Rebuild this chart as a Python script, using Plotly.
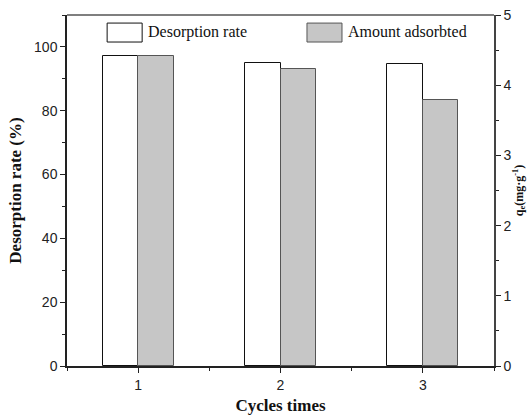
import plotly.graph_objects as go

cycles = [1, 2, 3]
desorption_rate = [97.2, 95.0, 94.8]
amount_adsorbed = [4.42, 4.23, 3.79]
left_ticks = [0, 20, 40, 60, 80, 100]
right_ticks = [0, 1, 2, 3, 4, 5]

fig = go.Figure()
fig.add_trace(go.Bar(x=cycles, y=desorption_rate, width=0.25, offset=-0.25,
                     marker=dict(color="white", line=dict(color="#111", width=1)),
                     name="Desorption rate", showlegend=False, yaxis="y"))
fig.add_trace(go.Bar(x=cycles, y=amount_adsorbed, width=0.25, offset=0,
                     marker=dict(color="#c6c6c6", line=dict(color="#555", width=1)),
                     name="Amount adsorbted", showlegend=False, yaxis="y2"))

tickfont = dict(family="Liberation Sans, Arial", size=14, color="#222")
serif = "Liberation Serif, Times New Roman"

fig.update_layout(
    width=532, height=415,
    margin=dict(l=67, r=38, t=15, b=49),
    paper_bgcolor="white", plot_bgcolor="white",
    xaxis=dict(range=[0.5, 3.5], tickvals=cycles, ticktext=[str(c) for c in cycles],
               ticks="outside", ticklen=5, tickwidth=1, tickcolor="#222",
               minor=dict(ticks="outside", dtick=0.5, tick0=0.5, ticklen=3, tickcolor="#222"),
               showline=True, linecolor="#222", linewidth=1.5, mirror=False,
               showgrid=False, zeroline=False, tickfont=tickfont, automargin=False,
               title=dict(text="<b>Cycles times</b>", font=dict(family=serif, size=17, color="#111"), standoff=12)),
    yaxis=dict(range=[0, 110], tickvals=left_ticks, ticks="outside", ticklen=5,
               tickcolor="#222", minor=dict(ticks="outside", dtick=10, ticklen=3, tickcolor="#222"),
               showline=True, linecolor="#222", linewidth=1.5, showgrid=False, zeroline=False,
               tickfont=tickfont, automargin=False,
               title=dict(text="<b>Desorption rate (%)</b>", font=dict(family=serif, size=17, color="#111"), standoff=8)),
    yaxis2=dict(range=[0, 5], tickvals=right_ticks, overlaying="y", side="right",
                ticks="outside", ticklen=5, tickcolor="#222",
                minor=dict(ticks="outside", dtick=0.5, ticklen=3, tickcolor="#222"),
                showline=True, linecolor="#444", linewidth=1.5, showgrid=False, zeroline=False,
                tickfont=tickfont, automargin=False,
                title=dict(text="<b>q<sub>e</sub>(mg·g<sup>-1</sup>)</b>", font=dict(family=serif, size=12, color="#111"), standoff=4)),
    bargap=0,
)

# top frame line
fig.add_shape(type="line", xref="paper", yref="paper", x0=0, x1=1, y0=1, y1=1,
              line=dict(color="#555", width=1.5))

# custom legend
legend_items = [("Desorption rate", "white", "#111", 0.094), ("Amount adsorbted", "#c6c6c6", "#555", 0.562)]
for label, fill, edge, x0 in legend_items:
    fig.add_shape(type="rect", xref="paper", yref="paper", x0=x0, x1=x0 + 0.082,
                  y0=0.923, y1=0.977, fillcolor=fill, line=dict(color=edge, width=1))
    fig.add_annotation(xref="paper", yref="paper", x=x0 + 0.092, y=0.952, text=label,
                       showarrow=False, xanchor="left", yanchor="middle",
                       font=dict(family=serif, size=16, color="#111"))

fig.write_html("out.html", config={"displayModeBar": False},
               post_script="document.body.style.margin='0';document.body.style.overflow='hidden';")
